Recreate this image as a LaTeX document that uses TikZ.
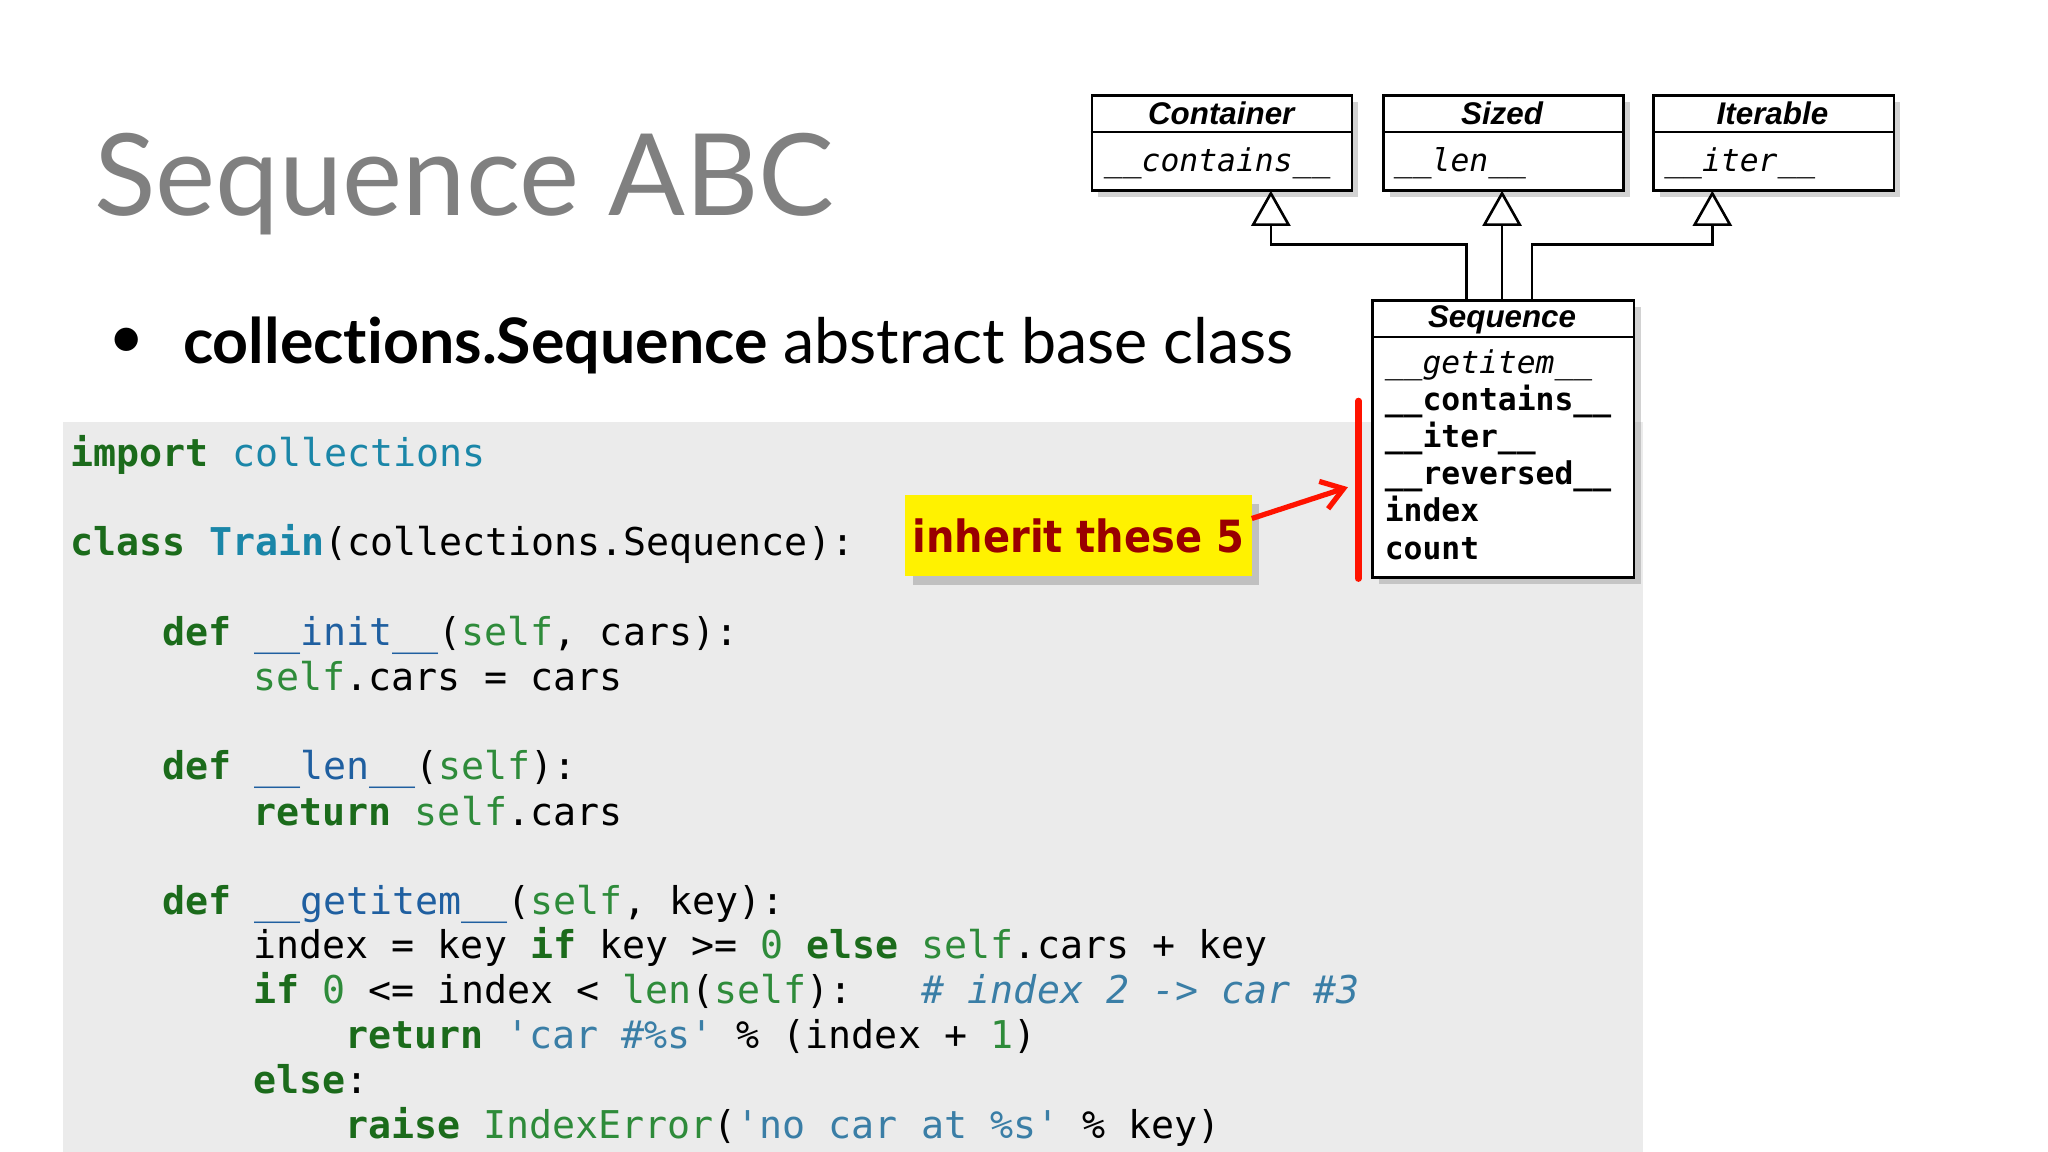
\documentclass[tikz,border=0pt]{standalone}
\usepackage{fontspec}
\setmainfont{Lato}[Ligatures={NoCommon}]
\setmonofont{DejaVu Sans Mono}
\newfontfamily\umlfont{Liberation Sans}
\newfontfamily\handfont{DejaVu Sans Condensed}
\usetikzlibrary{shadows,arrows.meta}
\definecolor{kwc}{HTML}{1B6B1B}
\definecolor{fnc}{HTML}{1F5FA0}
\definecolor{tlc}{HTML}{1A86A8}
\definecolor{slc}{HTML}{2E8B3A}
\definecolor{stc}{HTML}{3A7EA6}
\definecolor{codebg}{HTML}{EBEBEB}
\newcommand\kw[1]{\textcolor{kwc}{\bfseries #1}}
\newcommand\fnn[1]{\textcolor{fnc}{#1}}
\newcommand\tln[1]{\textcolor{tlc}{#1}}
\newcommand\slf[1]{\textcolor{slc}{#1}}
\newcommand\cstr[1]{\textcolor{stc}{#1}}
\begin{document}
\begin{tikzpicture}[x=1pt,y=-1pt,
  code/.style={anchor=base west,inner sep=0pt,font=\fontsize{29.3}{34}\ttfamily},
  umlbox/.style={draw,line width=2pt,fill=white,drop shadow={opacity=0.35,shadow xshift=5pt,shadow yshift=-5pt}},
  umlhead/.style={anchor=base,inner sep=0pt,font=\umlfont\fontsize{24}{26}\bfseries\itshape},
  umlm/.style={anchor=base west,inner sep=0pt,font=\fontsize{24}{28}\ttfamily},
  inh/.style={line width=2pt,-{Triangle[open,width=30pt,length=27pt,line width=2pt]}}]
\useasboundingbox (0,0) rectangle (1568,882);
\fill[white] (0,0) rectangle (1568,882);
% title
\node[anchor=base west,inner sep=0pt,text=black!50,font=\fontsize{87}{96}\selectfont] (title) at (72,165) {Sequence ABC};
\node[inner sep=0pt,font=\fontsize{48}{52}\selectfont] (bul) at (97,263) {•};
\node[anchor=base west,inner sep=0pt,font=\fontsize{48}{52}\selectfont] (sub) at (140,278) {\textbf{collections.Sequence} abstract base class};
% code background
\fill[codebg] (48,323) rectangle (1258,882);
\node[code] (l1) at (54,357) {\kw{import} \tln{collections}};
\node[code] (l2) at (54,425) {\kw{class} \tln{\bfseries Train}(collections.Sequence):};
\node[code] (l3) at (124,494) {\kw{def} \fnn{\_\_init\_\_}(\slf{self}, cars):};
\node[code] (l4) at (194,529) {\slf{self}.cars = cars};
\node[code] (l5) at (124,597) {\kw{def} \fnn{\_\_len\_\_}(\slf{self}):};
\node[code] (l6) at (194,632) {\kw{return} \slf{self}.cars};
\node[code] (l7) at (124,700) {\kw{def} \fnn{\_\_getitem\_\_}(\slf{self}, key):};
\node[code] (l8) at (194,734) {index = key \kw{if} key >= \slf{0} \kw{else} \slf{self}.cars + key};
\node[code] (l9) at (194,768) {\kw{if} \slf{0} <= index < \slf{len}(\slf{self}):\ \ \ \cstr{\itshape \# index 2 -> car \#3}};
\node[code] (l10) at (264,803) {\kw{return} \cstr{'car \#\%s'} \% (index + \slf{1})};
\node[code] (l11) at (194,837) {\kw{else}:};
\node[code] (l12) at (264,872) {\kw{raise} \slf{IndexError}(\cstr{'no car at \%s'} \% key)};
% UML
\node[umlbox,minimum width=199pt,minimum height=73pt,anchor=north west,inner sep=0pt] (cont) at (835,72) {};
\node[umlbox,minimum width=184pt,minimum height=73pt,anchor=north west,inner sep=0pt] (size) at (1058,72) {};
\node[umlbox,minimum width=184pt,minimum height=73pt,anchor=north west,inner sep=0pt] (iter) at (1265,72) {};
\node[umlbox,minimum width=200pt,minimum height=212pt,anchor=north west,inner sep=0pt] (seq) at (1050,229) {};
\draw[line width=2pt] (835,101) -- (1034,101) (1058,101) -- (1242,101) (1265,101) -- (1449,101) (1050,258) -- (1250,258);
\node[umlhead] (hc) at (935,95) {Container};
\node[umlhead] (hs) at (1150,95) {Sized};
\node[umlhead] (hi) at (1357,95) {Iterable};
\node[umlhead] (hq) at (1150,251) {Sequence};
\node[umlm,font=\fontsize{24}{28}\ttfamily\itshape] (mc) at (845,131) {\_\_contains\_\_};
\node[umlm,font=\fontsize{24}{28}\ttfamily\itshape] (ms) at (1067,131) {\_\_len\_\_};
\node[umlm,font=\fontsize{24}{28}\ttfamily\itshape] (mi) at (1274,131) {\_\_iter\_\_};
\node[umlm,font=\fontsize{24}{28}\ttfamily\itshape] (q1) at (1060,286) {\_\_getitem\_\_};
\node[umlm,font=\fontsize{24}{28}\ttfamily\bfseries] (q2) at (1060,314) {\_\_contains\_\_};
\node[umlm,font=\fontsize{24}{28}\ttfamily\bfseries] (q3) at (1060,343) {\_\_iter\_\_};
\node[umlm,font=\fontsize{24}{28}\ttfamily\bfseries] (q4) at (1060,371) {\_\_reversed\_\_};
\node[umlm,font=\fontsize{24}{28}\ttfamily\bfseries] (q5) at (1060,399) {index};
\node[umlm,font=\fontsize{24}{28}\ttfamily\bfseries] (q6) at (1060,428) {count};
\coordinate (sa) at (1123,229); \coordinate (sb) at (1150,229); \coordinate (sc) at (1173,229);
\draw[inh] (sa) |- (973,187) -- (973,146);
\draw[inh] (sb) -- (1150,146);
\draw[inh] (sc) |- (1311,187) -- (1311,146);
% annotation
\node[fill=yellow,minimum width=265pt,minimum height=62pt,anchor=north west,inner sep=0pt,drop shadow={opacity=0.4,shadow xshift=6pt,shadow yshift=-7pt}] (note) at (693,379) {};
\node[text=red!60!black,font=\handfont\fontsize{34}{40}\bfseries] (notet) at (note.center) {inherit these 5};
\draw[red!85!orange,line width=5pt,line cap=round] (1040,307) -- (1040,443);
\coordinate (bar) at (1032,373);
\draw[red!85!orange,line width=4pt,-{Straight Barb[length=16pt,width=22pt]}] (note.east |- 0,397) -- (bar);
\end{tikzpicture}
\end{document}
